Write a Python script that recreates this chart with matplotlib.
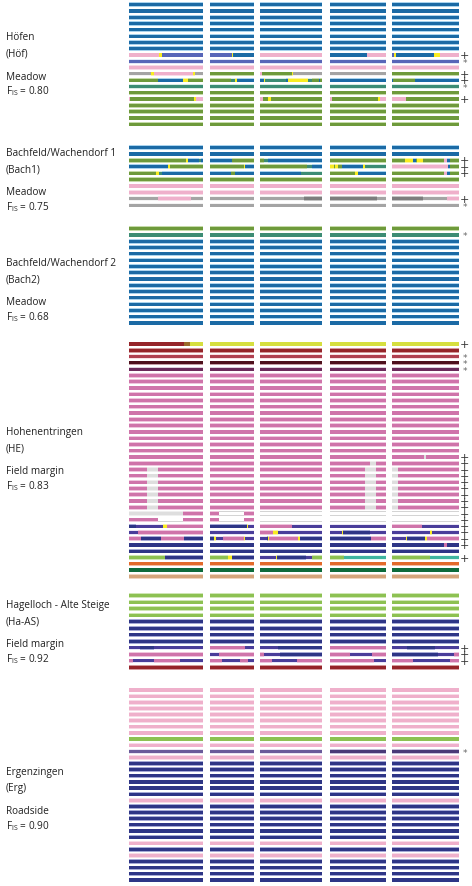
import matplotlib
matplotlib.use("Agg")
import matplotlib.pyplot as plt

plt.rcParams['font.family'] = ['Open Sans', 'DejaVu Sans']
plt.rcParams['hatch.linewidth'] = 0.7

# ---------------- data ----------------
# segment codes -> (face, halo, hatch colour or None)
COLORS = {
    'B':  ('#1b6aa5', '#a9d3ee', None),
    'P':  ('#efb0cb', '#f8dbe7', None),
    'G':  ('#6e9a3b', '#c5dba8', None),
    'Y':  ('#f8ec22', '#fbf5a0', None),
    'K':  ('#7d7d7d', '#c4c4c4', None),
    'R':  ('#952429', '#d49a9c', None),
    'Q':  ('#d6df3f', '#eef2a5', None),
    'M':  ('#cf74aa', '#efc5dd', None),
    'E':  ('#dedede', '#efefef', None),
    'W':  ('#ffffff', '#d4d4d4', None),
    'N':  ('#2e3586', '#a5a9d6', None),
    'g':  ('#8dc152', '#cfe6b4', None),
    'O':  ('#e36a2b', '#f4bca0', None),
    'D':  ('#0d6b3b', '#9cc7ae', None),
    'T':  ('#d4a57c', '#eed5c0', None),
    'hB': ('#d0d8f2', '#e2e7f7', '#5866b8'),
    'hG': ('#f0f0f0', '#f4f4f4', '#a4a4a4'),
    'hT': ('#b8dccc', '#d8ece4', '#3c8c74'),
    'hO': ('#d6c060', '#eee0a0', '#9a6a2a'),
    'hR': ('#f3c7cf', '#f8e0e4', '#b04050'),
    'hM': ('#7a2a38', '#c8a0a8', '#4e101c'),
    'hV': ('#c0a0b8', '#e0d0dc', '#6a2a5a'),
    'hN': ('#dcd4f0', '#ebe7f7', '#4a3d9a'),
    'hC': ('#cfeee8', '#e4f6f2', '#3fb5a0'),
    'hU': ('#dad0e8', '#eae4f2', '#6a5a9a'),
    'hX': ('#9888b8', '#c8c0dc', '#4a3a78'),
}

GROUP_NAMES = ["Höfen", "Bachfeld/Wachendorf 1", "Bachfeld/Wachendorf 2",
               "Hohenentringen", "Hagelloch - Alte Steige", "Ergenzingen"]
GROUP_CODES = ["(Höf)", "(Bach1)", "(Bach2)", "(HE)", "(Ha-AS)", "(Erg)"]
GROUP_TYPES = ["Meadow", "Meadow", "Meadow", "Field margin", "Field margin", "Roadside"]
GROUP_FIS = ["0.80", "0.75", "0.68", "0.83", "0.92", "0.90"]

HOF_ROWS = ["B"] * 8 + [
    ["P@41 Y@45 hB@100", "hB@49 Y@53 B@100", "P", "B@66 P@100", "hB@3 Y@6 B@63 Y@72 P@100"],
    "hB",
    "P",
    ["hG@29 Y@33 P@86 Y@89 hG@100", "G", "P@3 G@51 Y@53 hG@100", "hG", "G"],
    ["G@39 B@73 Y@80 G@100", "G@47 hT@56 Y@60 B@100",
     "B@6 Y@8 hT@42 B@45 Y@77 hT@83 G@94 B@96 G@100", "B", "B@2 G@34 B@100"],
    "hT",
    "G",
    ["P@1 G@87 Y@90 P@100", "G", "P@4 G@13 Y@18 G@100", "P@4 G@85 Y@89 P@100", "P@21 G@100"],
] + ["G"] * 4
HOF_MARKS = {8: '+', 9: '*', 11: '+', 12: '+', 13: '*', 15: '+'}

BACH1_ROWS = ["B", "B",
    ["G@77 Y@79 B@94 hT@97 B@100", "B@50 G@100", "G@6 hT@12 B@100", "G",
     "G@19 Y@31 B@36 G@38 Y@47 G@78 P@82 B@87 G@100"],
    ["B@53 Y@55 G@100", "G@76 Y@79 B@100", "G@76 hT@83 B@100",
     "Y@7 G@9 Y@14 G@22 B@60 Y@62 hT@100", "P@83 B@87 G@100"],
    ["G@36 Y@40 hT@44 B@100", "B@47 G@56 B@100", "B@66 hT@100", "G@45 Y@50 B@100",
     "G@78 P@82 B@87 G@100"],
    "G", "P", "P",
    ["hG@39 P@83 hG@100", "hG", "hG@70 K@100", "K@84 hG@100", "K@47 hG@82 P@100"],
    "hG",
]
BACH1_MARKS = {2: '+', 3: '+', 4: '+', 8: '+', 9: '*'}

BACH2_ROWS = ["G", "hT"] + ["B"] * 14
BACH2_MARKS = {1: '*'}

HE_GREY = ["M@24 E@39 M@100", "M", "M", "M@63 E@83 M@100", "E@9 M@100"]
HE_ROWS = [
    ["R@74 hO@82 Q@100", "Q", "Q", "Q", "Q"],
    "R", "hR", "hM", "hV",
] + ["M"] * 13 + [
    ["M", "M", "M", "M", "M@48 E@51 M@100"],
    ["M", "M", "M", "M@72 E@83 M@100", "M"],
] + [HE_GREY] * 7 + [
    ["E@73 M@100", "M@20 W@77 M@100", "W", "W", "W"],
    ["M@39 W@73 M@100", "M@20 W@77 M@100", "W", "W", "W"],
    ["N@9 hN@46 Y@51 M@100", "N@83 Y@87 hN@100", "M@51 hN@100", "hN", "M@45 hN@100"],
    ["hN@12 M@100", "hN", "M@21 Y@29 hN@100", "hN@21 Y@23 N@72 hN@100", "hN@57 Y@59 hN@100"],
    ["M@16 N@43 M@74 N@100", "N@9 Y@12 hN@30 M@77 Y@80 hN@100",
     "hN@10 N@13 Y@14 M@61 Y@64 N@100", "N@73 M@100", "hN@21 Y@23 N@49 Y@52 M@100"],
    ["N", "N", "N", "N", "N@77 M@82 N@100"],
    "N",
    ["g@49 N@100", "g@41 Y@49 N@100", "hN@25 Y@27 N@73 hN@83 g@100", "g@25 hC@100", "g@56 hC@100"],
    "O", "D", "T",
]
HE_MARKS = {0: '+', 2: '*', 3: '*', 4: '*', 34: '+'}
HE_MARKS.update({i: '+' for i in range(18, 33)})

HAAS_ROWS = ["g"] * 4 + ["N"] * 4 + [
    ["hN@15 N@34 hN@100", "M@79 hN@100", "hN@29 N@100", "M", "hN@23 N@64 hN@100"],
    ["M", "hN@20 M@100", "M@6 hN@31 N@100", "M@36 hN@76 M@100", "N@69 hN@92 M@100"],
    ["M@6 hN@34 M@68 hN@100", "M@26 hN@68 M@87 hN@100", "M@19 hN@59 M@100", "M@78 hN@100",
     "M@31 hN@87 M@100"],
    "R",
]
HAAS_MARKS = {8: '+', 9: '+', 10: '+'}

ERG_ROWS = (["P"] * 8 + ["g", "P", ["hU", "hU", "hU", "hX", "hX"], "P"] + ["N"] * 6 + ["P"]
            + ["N"] * 6 + ["P", "N", "P"] + ["N"] * 4)
ERG_MARKS = {10: '*'}

# ---------------- layout ----------------
BLOCK_LEFT = [129.0, 210.3, 260.3, 329.7, 392.0]
BLOCK_LEN = [74.3, 43.7, 62.0, 56.3, 67.0]
GROUPS = [
    (HOF_ROWS, HOF_MARKS, 5.7, 6.29, 38),
    (BACH1_ROWS, BACH1_MARKS, 148.5, 6.4, 154),
    (BACH2_ROWS, BACH2_MARKS, 229.7, 6.29, 264),
    (HE_ROWS, HE_MARKS, 345.0, 6.28, 433),
    (HAAS_ROWS, HAAS_MARKS, 596.7, 6.51, 606),
    (ERG_ROWS, ERG_MARKS, 691.0, 6.13, 773),
]
CORE_H = 3.2
HALO_H = 4.5
MARK_X = 464.5


def parse(spec):
    if '@' not in spec:
        return [(spec, 0.0, 1.0)]
    segs, prev = [], 0.0
    for tok in spec.split():
        code, end = tok.split('@')
        end = float(end) / 100.0
        segs.append((code, prev, end))
        prev = end
    return segs


fig = plt.figure(figsize=(4.72, 8.87), dpi=100)
ax = fig.add_axes([0, 0, 1, 1])
ax.set_xlim(0, 472)
ax.set_ylim(887, 0)
ax.axis('off')

for gi, (rows, marks, y0, dy, ty) in enumerate(GROUPS):
    for ri, row in enumerate(rows):
        y = y0 + ri * dy
        blocks = [row] * 5 if isinstance(row, str) else row
        for bi, spec in enumerate(blocks):
            for code, s, e in parse(spec):
                face, halo, hcol = COLORS[code]
                left = BLOCK_LEFT[bi] + s * BLOCK_LEN[bi]
                width = (e - s) * BLOCK_LEN[bi]
                ax.barh(y, width, left=left, height=HALO_H, color=halo, lw=0, zorder=1)
                if hcol is None:
                    ax.barh(y, width, left=left, height=CORE_H, color=face, lw=0, zorder=2)
                else:
                    ax.barh(y, width, left=left, height=CORE_H, color=face, edgecolor=hcol,
                            hatch='x' * 22, lw=0, zorder=2)
        if ri in marks:
            if marks[ri] == '+':
                ax.text(MARK_X, y, '+', fontsize=8, color='#333333', ha='center',
                        va='center', family='DejaVu Sans', zorder=3)
            else:
                ax.text(MARK_X, y + 1.0, '*', fontsize=6.5, color='#666666', ha='center',
                        va='center', family='DejaVu Sans', zorder=3)
    # labels
    ax.text(6, ty, GROUP_NAMES[gi], fontsize=7.2, color='#222222', va='center', ha='left')
    ax.text(6, ty + 16, GROUP_CODES[gi], fontsize=7.2, color='#222222', va='center', ha='left')
    ax.text(6, ty + 39, GROUP_TYPES[gi], fontsize=7.2, color='#222222', va='center', ha='left')
    ax.text(6, ty + 53, r'F$_{\mathregular{IS}}$ = ' + GROUP_FIS[gi], fontsize=7.2,
            color='#222222', va='center', ha='left')

fig.savefig('out.png', dpi=100)
